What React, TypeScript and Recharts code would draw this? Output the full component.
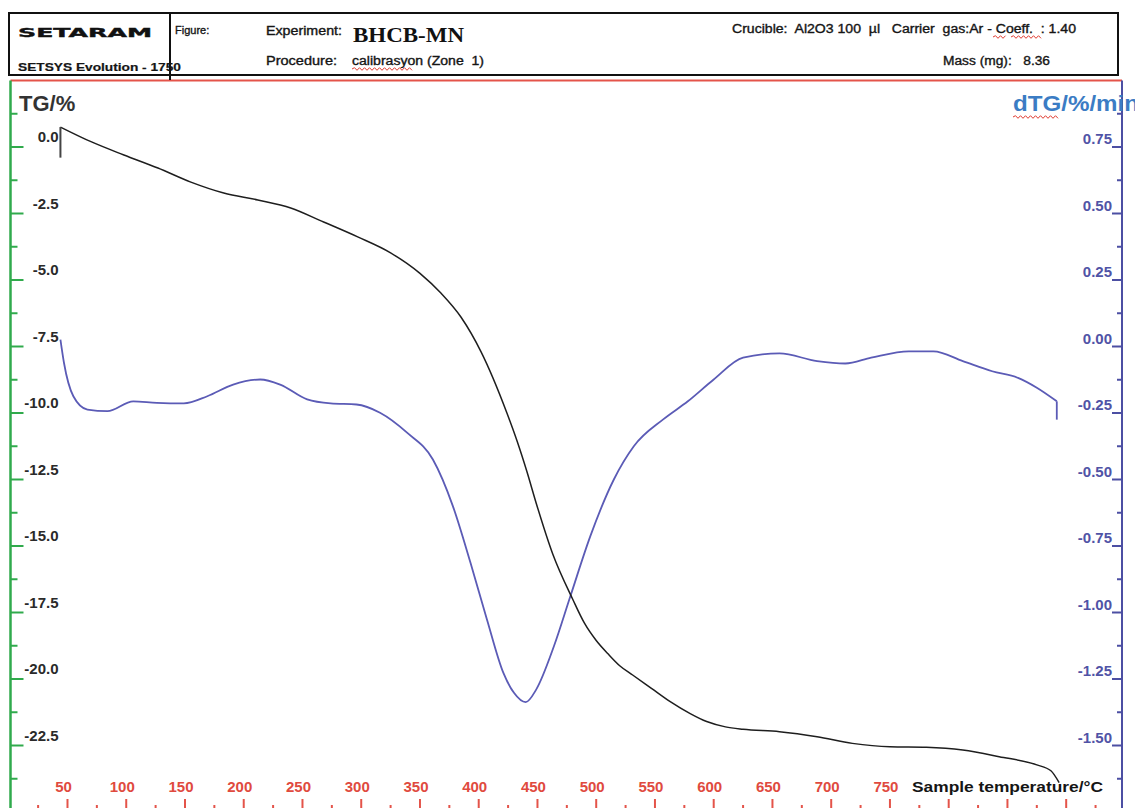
import React from 'react';
import { LineChart, Line, XAxis, YAxis, ReferenceLine } from 'recharts';

// TG curve: mass change (%) vs sample temperature (°C)
const tgTemp = [44, 70, 98, 127, 155, 183, 212, 240, 268, 297, 325, 350, 368, 385, 402, 424, 433, 441, 449, 463, 480, 490, 500, 510, 520, 531, 547, 563, 580, 594, 610, 625, 656, 688, 718, 750, 781, 812, 843, 875, 887, 894];
const tgValue = [0.75, 0.2, -0.3, -0.79, -1.32, -1.73, -1.99, -2.29, -2.82, -3.38, -3.98, -4.75, -5.5, -6.4, -7.7, -10.0, -11.1, -12.2, -13.4, -15.3, -17.0, -17.9, -18.55, -19.05, -19.5, -19.85, -20.35, -20.85, -21.3, -21.6, -21.8, -21.89, -21.98, -22.17, -22.42, -22.55, -22.57, -22.67, -22.92, -23.23, -23.45, -23.9];

// DTG curve (%/min)
const dtgTemp = [44, 47, 55, 67, 84, 106, 126, 149, 169, 191, 214, 231, 254, 274, 296, 316, 339, 361, 378, 393, 407, 421, 430, 440, 449, 464, 478, 495, 515, 532, 557, 578, 600, 625, 656, 688, 712, 734, 766, 787, 812, 837, 859, 875, 892];
const dtgValue = [0.026, -0.061, -0.187, -0.237, -0.243, -0.206, -0.212, -0.214, -0.187, -0.143, -0.124, -0.143, -0.199, -0.214, -0.218, -0.249, -0.324, -0.425, -0.6, -0.813, -1.026, -1.227, -1.302, -1.337, -1.289, -1.127, -0.939, -0.713, -0.5, -0.375, -0.274, -0.206, -0.124, -0.042, -0.026, -0.055, -0.064, -0.042, -0.018, -0.018, -0.055, -0.093, -0.118, -0.155, -0.206];

const tgTickLabels = [0, -2.5, -5, -7.5, -10, -12.5, -15, -17.5, -20, -22.5];
const dtgTickLabels = [0.75, 0.5, 0.25, 0, -0.25, -0.5, -0.75, -1, -1.25, -1.5];
const tempTickLabels = [50, 100, 150, 200, 250, 300, 350, 400, 450, 500, 550, 600, 650, 700, 750];

const tgTicks = [...tgTickLabels.flatMap((v) => [v + 1.25, v]), -23.75];
const dtgTicks = [...dtgTickLabels.flatMap((v) => [v + 0.125, v]), -1.625];
const tempTicks = Array.from({ length: 37 }, (_, i) => 25 + i * 25);

const tgData = tgTemp.map((t, i) => ({ t, v: tgValue[i] }));
const dtgData = dtgTemp.map((t, i) => ({ t, v: dtgValue[i] }));

const TG_COLOR = '#1e1e1e';
const DTG_COLOR = '#5b5bb6';
const GREEN = '#30aa4c';
const RED = '#e4544a';
const LABEL_RED = '#e04a3e';
const BLUE_AXIS = '#4c4fa3';
const FONT = '"Liberation Sans", Arial, sans-serif';

const W = 1135;
const H = 830;

const LeftTick = (props: any) => {
  const { x, y, payload } = props;
  const major = tgTickLabels.includes(payload.value);
  return (
    <g>
      <line x1={x} x2={x + (major ? 13 : 7)} y1={y} y2={y} stroke={GREEN} strokeWidth={2} />
      {major && (
        <text x={x + 48} y={y - 5} textAnchor="end" fontFamily={FONT} fontWeight="bold" fontSize={15} fill="#2a2a2a">
          {payload.value.toFixed(1)}
        </text>
      )}
    </g>
  );
};

const RightTick = (props: any) => {
  const { x, y, payload } = props;
  const major = dtgTickLabels.includes(payload.value);
  return (
    <g>
      <line x1={x} x2={x - (major ? 10 : 5)} y1={y} y2={y} stroke={BLUE_AXIS} strokeWidth={2} />
      {major && (
        <text x={x - 10} y={y - 3} textAnchor="end" fontFamily={FONT} fontWeight="bold" fontSize={15} fill="#5053a6">
          {payload.value.toFixed(2)}
        </text>
      )}
    </g>
  );
};

const BottomTick = (props: any) => {
  const { x, y, payload } = props;
  const major = payload.value % 50 === 0;
  return (
    <g>
      <line x1={x} x2={x} y1={y} y2={y - (major ? 13 : 7)} stroke={RED} strokeWidth={2} />
      {tempTickLabels.includes(payload.value) && (
        <text x={x - 4} y={y - 20} textAnchor="middle" fontFamily={FONT} fontWeight="bold" fontSize={15} fill={LABEL_RED}>
          {payload.value}
        </text>
      )}
    </g>
  );
};

const TopTick = (props: any) => {
  const { x, y, payload } = props;
  const major = payload.value % 50 === 0;
  return <line x1={x} x2={x} y1={y} y2={y + (major ? 10 : 5)} stroke={RED} strokeWidth={2} />;
};

// red spell-check squiggle under a word
const wavy = (x0: number, x1: number, y: number) => {
  let d = `M${x0},${y}`;
  let up = true;
  for (let x = x0; x < x1; x += 2.5) {
    d += ` L${x + 2.5},${y + (up ? -1.3 : 1.3)}`;
    up = !up;
  }
  return d;
};

const headerText = { fontFamily: FONT, fontSize: 12, fill: '#151515', stroke: '#151515', strokeWidth: 0.35 } as const;

const Header: React.FC = () => (
  <svg width={W} height={808} style={{ position: 'absolute', left: 0, top: 0, pointerEvents: 'none' }}>
    <rect x={9} y={13} width={1109} height={62} fill="none" stroke="#111" strokeWidth={2} />
    <line x1={170} x2={170} y1={13} y2={80} stroke="#111" strokeWidth={2} />
    <text x={18} y={37} fontFamily='"DejaVu Sans", sans-serif' fontWeight={900} fontSize={13} fill="#111" stroke="#111" strokeWidth={0.4} textLength={134} lengthAdjust="spacingAndGlyphs">
      SETARAM
    </text>
    <text x={18} y={71} {...headerText} fontWeight="bold" fontSize={11} strokeWidth={0.2} textLength={163} lengthAdjust="spacingAndGlyphs">
      SETSYS Evolution - 1750
    </text>
    <text x={175} y={34} {...headerText} fontSize={11}>Figure:</text>
    <text x={266} y={35} {...headerText} textLength={76} lengthAdjust="spacingAndGlyphs">Experiment:</text>
    <text x={353} y={42} fontFamily='"Liberation Serif", "DejaVu Serif", serif' fontWeight="bold" fontSize={22} fill="#111" textLength={111} lengthAdjust="spacingAndGlyphs">
      BHCB-MN
    </text>
    <text x={266} y={65} {...headerText} textLength={71} lengthAdjust="spacingAndGlyphs">Procedure:</text>
    <text x={352} y={65} {...headerText} textLength={132} lengthAdjust="spacingAndGlyphs" style={{ whiteSpace: 'pre' }}>
      calibrasyon (Zone  1)
    </text>
    <path d={wavy(352, 411, 69)} stroke="#e03a30" strokeWidth={1} fill="none" />
    <text x={732} y={33} {...headerText} textLength={344} lengthAdjust="spacingAndGlyphs" style={{ whiteSpace: 'pre' }}>
      {'Crucible:  Al2O3 100  µl   Carrier  gas:Ar - Coeff.  : 1.40'}
    </text>
    <path d={wavy(993, 1004, 37)} stroke="#e03a30" strokeWidth={1} fill="none" />
    <path d={wavy(1011, 1040, 37)} stroke="#e03a30" strokeWidth={1} fill="none" />
    <text x={943} y={65} {...headerText} textLength={107} lengthAdjust="spacingAndGlyphs" style={{ whiteSpace: 'pre' }}>
      {'Mass (mg):   8.36'}
    </text>

    <text x={19} y={111} fontFamily={FONT} fontWeight="bold" fontSize={22} fill="#333">TG/%</text>
    <text x={1013} y={111} fontFamily={FONT} fontWeight="bold" fontSize={22} fill="#3b7cc4" textLength={126} lengthAdjust="spacingAndGlyphs">
      dTG/%/min
    </text>
    <path d={wavy(1013, 1058, 117)} stroke="#e03a30" strokeWidth={1} fill="none" />
    <text x={912} y={792} fontFamily={FONT} fontWeight="bold" fontSize={15.5} fill="#151515" textLength={191} lengthAdjust="spacingAndGlyphs">
      Sample temperature/°C
    </text>
  </svg>
);

const App: React.FC = () => {
  return (
    <div style={{ position: 'absolute', left: 0, top: 0, width: W, height: 808, overflow: 'hidden', background: '#fff' }}>
      <LineChart width={W} height={H} margin={{ top: 79.5, right: 12, bottom: 17, left: 9.5 }}>
        <XAxis
          dataKey="t"
          type="number"
          domain={[1.5, 947.5]}
          ticks={tempTicks}
          interval={0}
          height={1}
          tickSize={0}
          tickMargin={0}
          tickLine={false}
          tick={<BottomTick />}
          axisLine={{ stroke: RED, strokeWidth: 2 }}
          allowDataOverflow
        />
        <XAxis
          xAxisId="top"
          orientation="top"
          type="number"
          domain={[1.5, 947.5]}
          ticks={tempTicks}
          interval={0}
          height={1}
          tickSize={0}
          tickMargin={0}
          tickLine={false}
          tick={<TopTick />}
          axisLine={{ stroke: RED, strokeWidth: 2 }}
          allowDataOverflow
        />
        <YAxis
          yAxisId="tg"
          type="number"
          domain={[-25, 2.5]}
          ticks={tgTicks}
          interval={0}
          width={1}
          tickSize={0}
          tickMargin={0}
          tickLine={false}
          tick={<LeftTick />}
          axisLine={{ stroke: GREEN, strokeWidth: 2.5 }}
          allowDataOverflow
        />
        <YAxis
          yAxisId="dtg"
          orientation="right"
          type="number"
          domain={[-1.75, 1]}
          ticks={dtgTicks}
          interval={0}
          width={1}
          tickSize={0}
          tickMargin={0}
          tickLine={false}
          tick={<RightTick />}
          axisLine={{ stroke: BLUE_AXIS, strokeWidth: 2 }}
          allowDataOverflow
        />
        <Line
          yAxisId="dtg"
          data={dtgData}
          dataKey="v"
          type="monotone"
          stroke={DTG_COLOR}
          strokeWidth={1.8}
          dot={false}
          isAnimationActive={false}
        />
        <Line
          yAxisId="tg"
          data={tgData}
          dataKey="v"
          type="monotone"
          stroke={TG_COLOR}
          strokeWidth={1.5}
          dot={false}
          isAnimationActive={false}
        />
        {/* start / end markers of the recorded segments */}
        <ReferenceLine
          yAxisId="tg"
          segment={[{ x: tgTemp[0], y: tgValue[0] }, { x: tgTemp[0], y: -0.4 }]}
          stroke="#444"
          strokeWidth={2}
        />
        <ReferenceLine
          yAxisId="dtg"
          segment={[
            { x: dtgTemp[dtgTemp.length - 1], y: dtgValue[dtgValue.length - 1] },
            { x: dtgTemp[dtgTemp.length - 1], y: -0.275 },
          ]}
          stroke={DTG_COLOR}
          strokeWidth={1.8}
        />
      </LineChart>
      <Header />
    </div>
  );
};

export default App;
